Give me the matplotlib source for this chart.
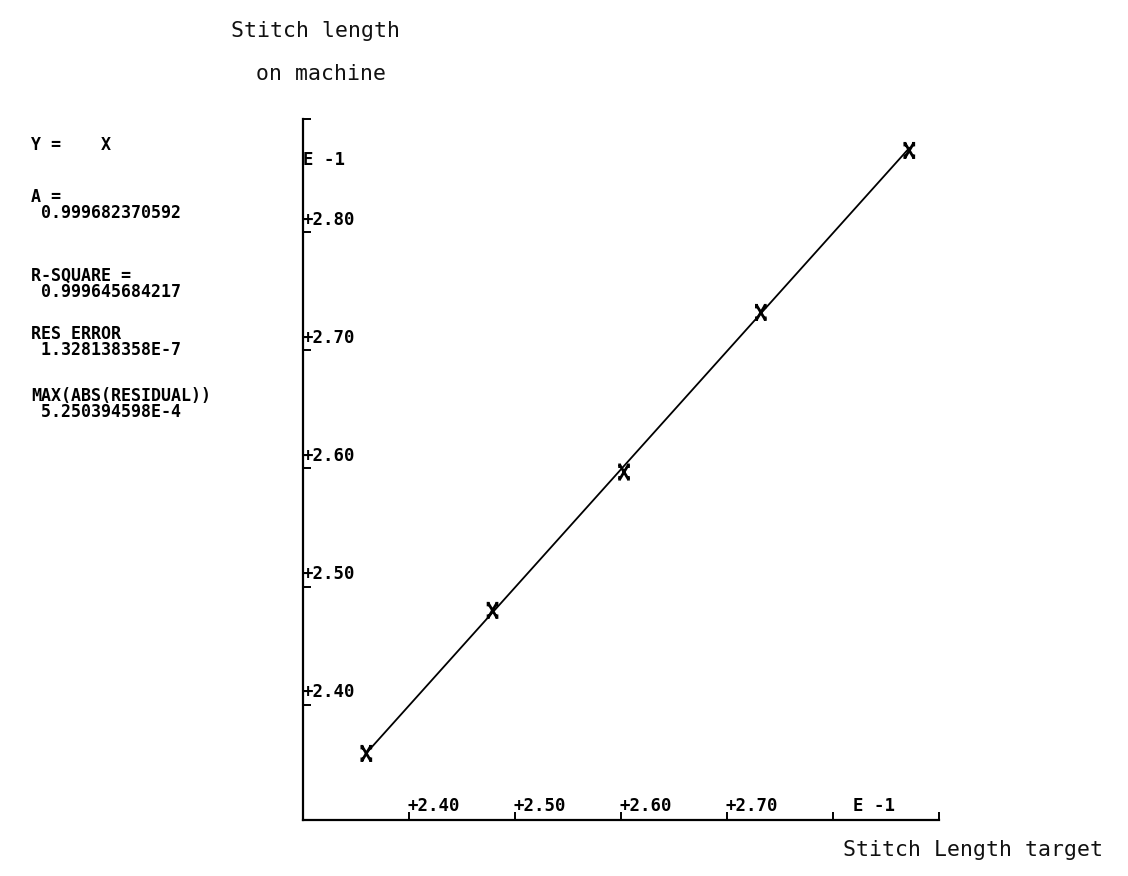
import matplotlib
matplotlib.use("Agg")
import matplotlib.pyplot as plt
from matplotlib.path import Path
import numpy as np

# Data (values in units of E-1)
target = [2.360, 2.479, 2.603, 2.732, 2.872]
machine = [2.359, 2.480, 2.597, 2.732, 2.869]
slope_a = 0.999682370592

x_ticks = [2.40, 2.50, 2.60, 2.70, 2.80]
x_tick_labels = ["+2.40", "+2.50", "+2.60", "+2.70", "  E -1"]
y_ticks = [2.40, 2.50, 2.60, 2.70, 2.80]
y_tick_labels = ["+2.40", "+2.50", "+2.60", "+2.70", "+2.80"]

stats_blocks = [
    ("Y =    X", 145),
    ("A =\n 0.999682370592", 205),
    ("R-SQUARE =\n 0.999645684217", 284),
    ("RES ERROR\n 1.328138358E-7", 342),
    ("MAX(ABS(RESIDUAL))\n 5.250394598E-4", 404),
]

W, H = 1128, 876
fig = plt.figure(figsize=(W / 100, H / 100), dpi=100)
fig.patch.set_facecolor("white")
ax = fig.add_axes([302.7 / W, 1 - 820 / H, (939 - 302.7) / W, (820 - 119) / H])
ax.set_xlim(2.30, 2.90)
ax.set_ylim(2.3027, 2.8956)

for s in ["top", "right"]:
    ax.spines[s].set_visible(False)
for s in ["left", "bottom"]:
    ax.spines[s].set_linewidth(1.6)
    ax.spines[s].set_color("black")

mono = "DejaVu Sans Mono"
lab_size = 12.5

# ticks (drawn inward like the plotter)
ax.set_xticks(x_ticks + [2.90])
ax.set_xticklabels([])
ax.set_yticks(y_ticks + [2.8956])
ax.set_yticklabels([])
ax.tick_params(axis="both", direction="in", length=6, width=1.4, color="black")

xt = ax.get_xaxis_transform()
yt = ax.get_yaxis_transform()
for v, lab in zip(x_ticks, x_tick_labels):
    ax.annotate(lab, xy=(v, 0), xycoords=xt, xytext=(-1, 10), textcoords="offset points",
                ha="left", va="center", family=mono, fontsize=lab_size, fontweight="bold")
for v, lab in zip(y_ticks, y_tick_labels):
    ax.annotate(lab, xy=(0, v), xycoords=yt, xytext=(0, 9), textcoords="offset points",
                ha="left", va="center", family=mono, fontsize=lab_size, fontweight="bold")
ax.annotate("E -1", xy=(0, 2.861), xycoords=yt, xytext=(0, 0), textcoords="offset points",
            ha="left", va="center", family=mono, fontsize=lab_size, fontweight="bold")

# fitted line Y = A*X
xl = np.array([target[0], target[-1]])
ax.plot(xl, slope_a * xl, color="black", lw=1.3, zorder=2)

# plotter-style X marker with end strokes
verts = [(-0.6, 1), (0.6, -1), (-0.6, -1), (0.6, 1),
         (-0.6, 1.15), (-0.6, 0.55), (0.6, 1.15), (0.6, 0.55),
         (-0.6, -1.15), (-0.6, -0.55), (0.6, -1.15), (0.6, -0.55)]
codes = [Path.MOVETO, Path.LINETO] * 6
xmark = Path(verts, codes)
ax.scatter(target, machine, marker=xmark, s=150, facecolors="none", edgecolors="black",
           linewidths=2.0, zorder=3, clip_on=False)

# axis titles
tf = dict(family=mono, fontsize=15.5, color="#111111")
fig.text(231 / W, 1 - 31 / H, "Stitch length", ha="left", va="center", **tf)
fig.text(256 / W, 1 - 74 / H, "on machine", ha="left", va="center", **tf)
fig.text(843 / W, 1 - 850 / H, "Stitch Length target", ha="left", va="center", **tf)

# statistics block
for txt, yy in stats_blocks:
    fig.text(31 / W, 1 - yy / H, txt, ha="left", va="center", family=mono,
             fontsize=12, fontweight="bold", linespacing=0.86)

fig.savefig("out.png", dpi=100, facecolor="white")
